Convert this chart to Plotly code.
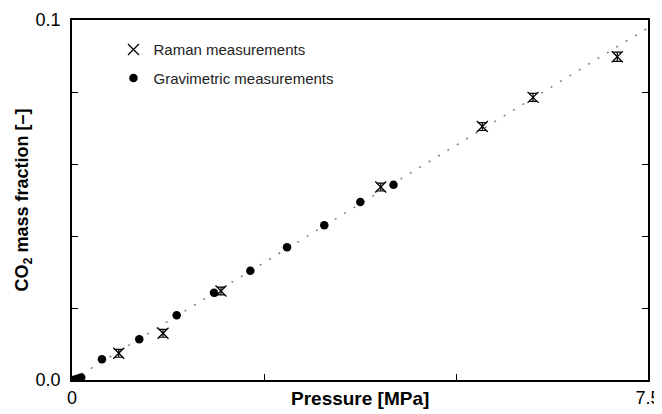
import plotly.graph_objects as go

# Gravimetric measurements (pressure MPa, CO2 mass fraction)
grav_p = [0.0, 0.04, 0.08, 0.12, 0.39, 0.876, 1.363, 1.849, 2.322, 2.80, 3.285, 3.754, 4.186]
grav_w = [0.0, 0.00014, 0.0004, 0.0007, 0.00575, 0.0113, 0.0180, 0.02425, 0.03036, 0.03686, 0.04297, 0.04944, 0.05425]

# Raman measurements
raman_p = [0.609, 1.185, 1.940, 4.02, 5.343, 6.003, 7.10]
raman_w = [0.00742, 0.01297, 0.02472, 0.0536, 0.0704, 0.0785, 0.0898]
raman_err = [0.0011, 0.0011, 0.0011, 0.0011, 0.0011, 0.0011, 0.0013]

# Model line (dotted)
fit_p = [0.0, 7.5]
fit_w = [0.0, 0.0978]

x_ticks = [0, 2.5, 5.0, 7.5]
x_ticktext = ["0", "", "", "7.5"]
y_ticks = [0.0, 0.02, 0.04, 0.06, 0.08, 0.1]
y_ticktext = ["0.0", "", "", "", "", "0.1"]

fig = go.Figure()
fig.add_trace(go.Scatter(
    x=fit_p, y=fit_w, mode="lines", showlegend=False,
    line=dict(color="#808080", width=1.5, dash="2px,9px"),
))
fig.add_trace(go.Scatter(
    x=raman_p, y=raman_w, mode="markers", name="Raman measurements",
    legendgroup="r",
    marker=dict(symbol="x-thin", size=11, color="black", line=dict(color="black", width=1.3)),
    error_y=dict(type="data", array=raman_err, visible=True, color="black", thickness=1.2, width=4),
))
fig.add_trace(go.Scatter(
    x=grav_p, y=grav_w, mode="markers", name="Gravimetric measurements",
    legendgroup="g",
    marker=dict(symbol="circle", size=8.5, color="black"),
))

fig.update_layout(
    width=654, height=406,
    margin=dict(l=64, r=14, t=12, b=34),
    paper_bgcolor="white", plot_bgcolor="white",
    font=dict(family="Liberation Sans, Arial, sans-serif", color="black", size=15),
    showlegend=True,
    legend=dict(x=0.072, y=0.963, xanchor="left", yanchor="top",
                bgcolor="rgba(0,0,0,0)", font=dict(size=15, color="#222"),
                traceorder="grouped", tracegroupgap=6),
    xaxis=dict(
        range=[0, 7.5], tickvals=x_ticks, ticktext=x_ticktext,
        ticks="inside", ticklen=6, tickwidth=1, tickcolor="black",
        showline=True, linecolor="black", linewidth=1.5, mirror=True,
        showgrid=False, zeroline=False, automargin=False,
        tickfont=dict(size=18), ticklabelstandoff=1,
    ),
    yaxis=dict(
        range=[0, 0.1], tickvals=y_ticks, ticktext=y_ticktext,
        ticks="inside", ticklen=6, tickwidth=1, tickcolor="black",
        showline=True, linecolor="black", linewidth=1.5, mirror="ticks",
        showgrid=False, zeroline=False, automargin=False,
        tickfont=dict(size=18), ticklabelstandoff=6,
        title=dict(text="<b>CO<sub>2</sub> mass fraction [–]</b>", font=dict(size=18), standoff=2),
    ),
    annotations=[dict(
        text="<b>Pressure [MPa]</b>", xref="paper", yref="paper",
        x=0.5, y=0, yshift=-18, xanchor="center", yanchor="middle",
        showarrow=False, font=dict(size=19),
    )],
)

fig.write_html("out.html")
